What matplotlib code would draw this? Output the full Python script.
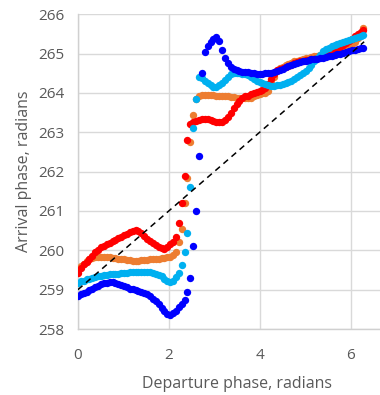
import numpy as np
import matplotlib
matplotlib.use('Agg')
from matplotlib import pyplot as plt

# departure phase (radians), 100 samples over one turn
x = np.linspace(0, 2 * np.pi, 100)

# arrival phase for each series
dark_blue = [258.85, 258.88, 258.92, 258.95, 258.98, 259.02, 259.06, 259.10, 259.14, 259.17,
             259.18, 259.19, 259.19, 259.17, 259.14, 259.11, 259.09, 259.06, 259.03, 259.01,
             258.99, 258.96, 258.94, 258.91, 258.88, 258.84, 258.77, 258.70, 258.63, 258.54,
             258.46, 258.38, 258.35, 258.41, 258.47, 258.55, 258.63, 258.75, 258.95, 259.30,
             260.10, 261.00, 262.40, 264.50, 265.05, 265.20, 265.30, 265.38, 265.43, 265.32,
             265.10, 264.88, 264.75, 264.65, 264.61, 264.58, 264.56, 264.54, 264.53, 264.52,
             264.51, 264.50, 264.49, 264.49, 264.49, 264.50, 264.50, 264.50, 264.52, 264.56,
             264.59, 264.62, 264.66, 264.69, 264.71, 264.74, 264.76, 264.78, 264.80, 264.82,
             264.84, 264.85, 264.86, 264.87, 264.88, 264.90, 264.92, 264.93, 264.95, 264.97,
             264.98, 265.00, 265.02, 265.04, 265.06, 265.08, 265.10, 265.11, 265.13, 265.15]

light_blue = [259.18, 259.21, 259.23, 259.26, 259.28, 259.30, 259.32, 259.34, 259.35, 259.37,
              259.38, 259.39, 259.40, 259.40, 259.41, 259.42, 259.43, 259.43, 259.44, 259.44,
              259.44, 259.44, 259.44, 259.44, 259.44, 259.44, 259.43, 259.41, 259.38, 259.34,
              259.27, 259.21, 259.19, 259.23, 259.31, 259.43, 259.62, 259.97, 260.45, 261.60,
              263.10, 263.85, 264.40, 264.38, 264.30, 264.24, 264.20, 264.16, 264.14, 264.19,
              264.25, 264.33, 264.40, 264.47, 264.50, 264.50, 264.50, 264.49, 264.47, 264.45,
              264.41, 264.36, 264.31, 264.28, 264.25, 264.22, 264.20, 264.18, 264.18, 264.19,
              264.21, 264.23, 264.25, 264.27, 264.31, 264.36, 264.41, 264.46, 264.51, 264.56,
              264.63, 264.72, 264.81, 264.89, 264.97, 265.06, 265.12, 265.15, 265.18, 265.21,
              265.24, 265.27, 265.29, 265.32, 265.35, 265.37, 265.40, 265.42, 265.44, 265.46]

orange = [259.52, 259.60, 259.66, 259.72, 259.77, 259.80, 259.82, 259.84, 259.84, 259.84,
          259.83, 259.82, 259.81, 259.80, 259.79, 259.78, 259.77, 259.76, 259.75, 259.74,
          259.74, 259.74, 259.75, 259.75, 259.76, 259.77, 259.77, 259.78, 259.79, 259.80,
          259.81, 259.82, 259.84, 259.87, 259.95, 260.20, 260.55, 261.20, 261.85, 262.75,
          263.45, 263.85, 263.92, 263.94, 263.95, 263.95, 263.94, 263.94, 263.93, 263.93,
          263.92, 263.91, 263.91, 263.90, 263.89, 263.88, 263.88, 263.87, 263.86, 263.86,
          263.88, 263.91, 263.94, 263.97, 263.99, 264.00, 264.05, 264.25, 264.40, 264.55,
          264.63, 264.67, 264.71, 264.74, 264.77, 264.80, 264.82, 264.84, 264.86, 264.88,
          264.89, 264.91, 264.93, 264.95, 264.96, 264.98, 265.00, 265.02, 265.05, 265.08,
          265.10, 265.13, 265.16, 265.19, 265.21, 265.24, 265.30, 265.40, 265.52, 265.65]

red = [259.42, 259.54, 259.64, 259.71, 259.78, 259.86, 259.95, 260.02, 260.08, 260.12,
       260.15, 260.19, 260.23, 260.27, 260.31, 260.35, 260.39, 260.42, 260.46, 260.50,
       260.52, 260.49, 260.43, 260.36, 260.30, 260.24, 260.19, 260.13, 260.09, 260.06,
       260.04, 260.09, 260.15, 260.20, 260.35, 260.70, 261.20, 261.90, 262.80, 263.20,
       263.25, 263.28, 263.30, 263.33, 263.35, 263.34, 263.31, 263.28, 263.26, 263.25,
       263.27, 263.31, 263.38, 263.50, 263.62, 263.72, 263.80, 263.86, 263.91, 263.93,
       263.96, 263.99, 264.02, 264.04, 264.07, 264.12, 264.22, 264.36, 264.48, 264.57,
       264.62, 264.64, 264.66, 264.68, 264.71, 264.75, 264.78, 264.80, 264.82, 264.83,
       264.84, 264.86, 264.87, 264.89, 264.91, 264.93, 264.96, 265.00, 265.04, 265.08,
       265.12, 265.17, 265.22, 265.27, 265.32, 265.37, 265.44, 265.50, 265.56, 265.60]

# reference line y = 259 + x
diag_x = [0, 6.3]
diag_y = [259, 265.3]

xticks = [0, 2, 4, 6]
yticks = [258, 259, 260, 261, 262, 263, 264, 265, 266]

plt.rcParams['font.family'] = ['Open Sans', 'DejaVu Sans']
grey = '#595959'

fig = plt.figure(figsize=(3.8, 3.95), dpi=100)
ax = fig.add_axes([0.205, 0.167, 0.837, 0.797])

ms = 5.3
ax.plot(x, orange, 'o', color='#ed7d31', markersize=ms, markeredgewidth=0, zorder=3)
ax.plot(x, red, 'o', color='#ff0000', markersize=ms, markeredgewidth=0, zorder=3)
ax.plot(x, light_blue, 'o', color='#00b0f0', markersize=ms, markeredgewidth=0, zorder=3)
ax.plot(x, dark_blue, 'o', color='#0000ff', markersize=ms, markeredgewidth=0, zorder=3)
ax.plot(diag_x, diag_y, color='black', linewidth=1.1, dashes=(4, 3), zorder=4)

ax.set_xlim(0, 7)
ax.set_ylim(258, 266)
ax.set_xticks(xticks)
ax.set_yticks(yticks)
ax.grid(True, color='#d9d9d9', linewidth=1.0)
ax.set_axisbelow(True)

for s in ['top', 'right']:
    ax.spines[s].set_visible(False)
for s in ['left', 'bottom']:
    ax.spines[s].set_color('#d0d0d0')
    ax.spines[s].set_linewidth(1.0)

ax.tick_params(length=0, labelsize=11, labelcolor=grey)
ax.tick_params(axis='y', pad=10)
ax.tick_params(axis='x', pad=14)
ax.set_xlabel('Departure phase, radians', fontsize=11.5, color=grey, labelpad=9)
ax.set_ylabel('Arrival phase, radians', fontsize=11.5, color=grey, labelpad=4)

fig.savefig('out.png', dpi=100)
